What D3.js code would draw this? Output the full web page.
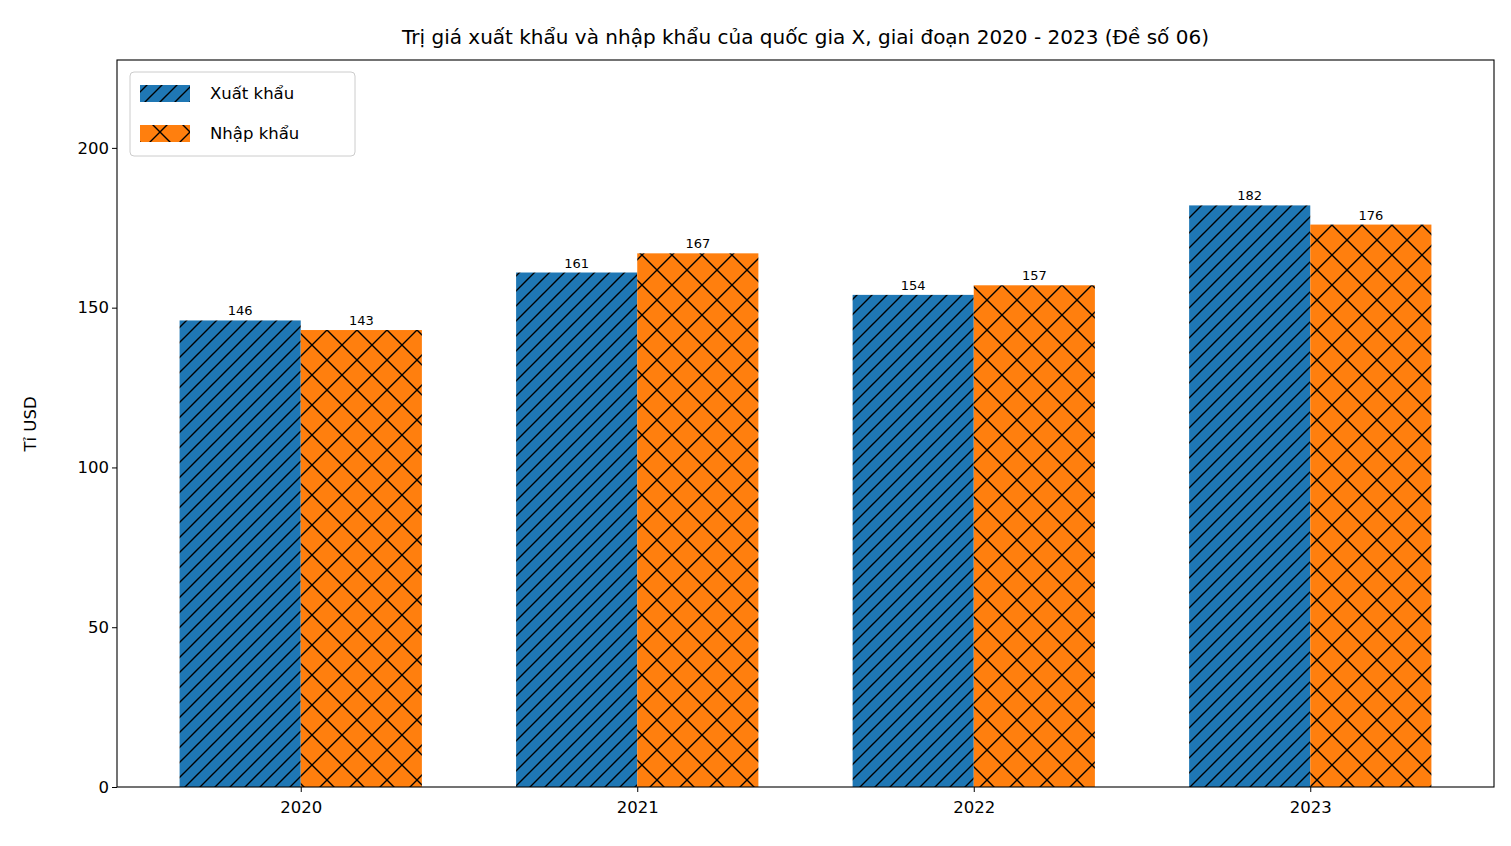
<!DOCTYPE html>
<html><head><meta charset="utf-8">
<script src="https://cdn.jsdelivr.net/npm/d3@7"></script>
<style>body{margin:0;background:#fff}text{font-family:"DejaVu Sans",sans-serif}</style>
</head><body>
<svg id="chart" width="1511" height="846"></svg>
<script>
const years = ['2020', '2021', '2022', '2023']
const exports = [146, 161, 154, 182]
const imports = [143, 167, 157, 176]
const seriesNames = ['Xuất khẩu', 'Nhập khẩu']
const yTicks = [0, 50, 100, 150, 200]

const margin = {top: 60, right: 17, bottom: 59, left: 117}
const width = 1511 - margin.left - margin.right
const height = 846 - margin.top - margin.bottom
const svg = d3.select('#chart')
const defs = svg.append('defs')

// hatch patterns
const p1 = defs.append('pattern').attr('id', 'hatchDiag')
  .attr('patternUnits', 'userSpaceOnUse').attr('width', 15).attr('height', 15)
p1.append('rect').attr('width', 15).attr('height', 15).attr('fill', '#1f77b4')
p1.append('path').attr('d', 'M-2,2 L2,-2 M0,15 L15,0 M13,17 L17,13')
  .attr('stroke', '#000').attr('stroke-width', 1.4)
const p2 = defs.append('pattern').attr('id', 'hatchX')
  .attr('patternUnits', 'userSpaceOnUse').attr('width', 30).attr('height', 30)
p2.append('rect').attr('width', 30).attr('height', 30).attr('fill', '#ff7f0e')
p2.append('path').attr('d', 'M0,0 L30,30 M0,30 L30,0')
  .attr('stroke', '#000').attr('stroke-width', 1.4)
const fills = ['url(#hatchDiag)', 'url(#hatchX)']

const x = d3.scaleLinear().domain([-0.546, 3.546]).range([0, width])
const y = d3.scaleLinear().domain([0, 227.5]).range([height, 0])
const bw = 0.36

const g = svg.append('g').attr('transform', `translate(${margin.left},${margin.top})`)

;[exports, imports].forEach((vals, s) => {
  const off = s === 0 ? -bw : 0
  g.append('g').selectAll('rect').data(vals).enter().append('rect')
    .attr('x', (d, i) => x(i + off))
    .attr('width', x(bw) - x(0))
    .attr('y', d => y(d))
    .attr('height', d => height - y(d))
    .attr('fill', fills[s])
  g.append('g').selectAll('text').data(vals).enter().append('text')
    .attr('x', (d, i) => x(i + off + bw / 2))
    .attr('y', d => y(d) - 5)
    .attr('text-anchor', 'middle')
    .style('font-size', '13px')
    .text(d => d)
})

const xAxis = g.append('g').attr('transform', `translate(0,${height})`)
  .call(d3.axisBottom(x).tickValues([0, 1, 2, 3]).tickFormat(i => years[i]).tickSizeOuter(0).tickSize(5))
const yAxis = g.append('g')
  .call(d3.axisLeft(y).tickValues(yTicks).tickSizeOuter(0).tickSize(5))
;[xAxis, yAxis].forEach(a => {
  a.select('.domain').remove()
  a.selectAll('text').style('font-size', '16.5px').style('font-family', '"DejaVu Sans",sans-serif').attr('fill', '#000')
  a.selectAll('line').attr('stroke', '#000')
})
xAxis.selectAll('text').attr('dy', '1.1em')

g.append('rect').attr('width', width).attr('height', height)
  .attr('fill', 'none').attr('stroke', '#000').attr('stroke-width', 1.1)

svg.append('text').attr('x', margin.left + width / 2).attr('y', 44)
  .attr('text-anchor', 'middle').style('font-size', '20px')
  .text('Trị giá xuất khẩu và nhập khẩu của quốc gia X, giai đoạn 2020 - 2023 (Đề số 06)')
svg.append('text').attr('transform', 'translate(36,424) rotate(-90)')
  .attr('text-anchor', 'middle').style('font-size', '16.5px').text('Tỉ USD')

// legend
const lg = svg.append('g').attr('transform', 'translate(130,72)')
lg.append('rect').attr('width', 225).attr('height', 84).attr('rx', 4)
  .attr('fill', '#fff').attr('fill-opacity', 0.8).attr('stroke', '#ccc')
seriesNames.forEach((n, i) => {
  lg.append('rect').attr('x', 10).attr('y', 13 + i * 40).attr('width', 50).attr('height', 17)
    .attr('fill', fills[i])
  lg.append('text').attr('x', 80).attr('y', 27 + i * 40).style('font-size', '16.5px').text(n)
})
</script>
</body></html>
